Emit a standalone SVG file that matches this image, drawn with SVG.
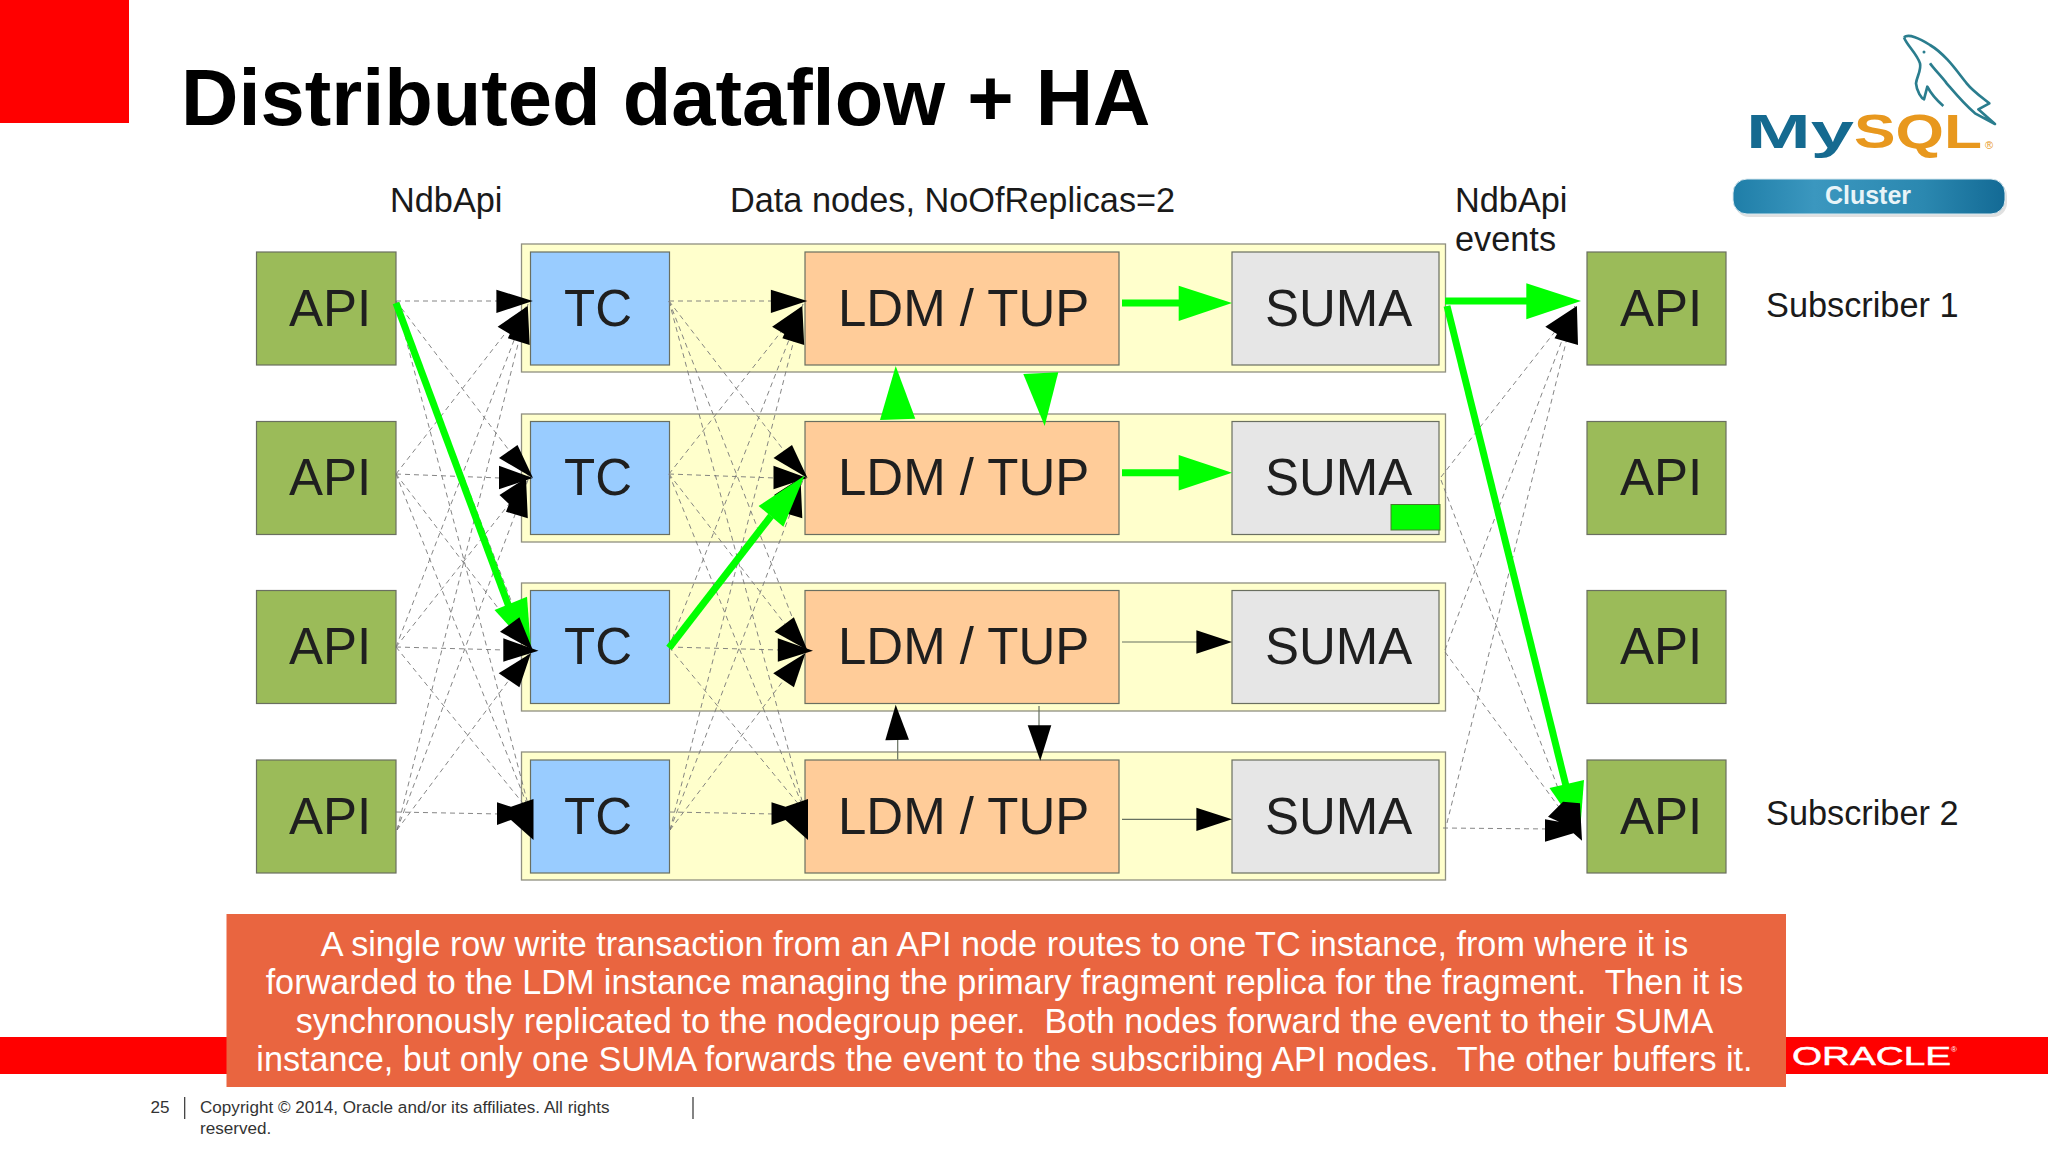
<svg xmlns="http://www.w3.org/2000/svg" width="2048" height="1152" viewBox="0 0 2048 1152">
<style>
text{font-family:"Liberation Sans",Arial,sans-serif;white-space:pre}
.band{fill:#ffffcc;stroke:#8f8f80;stroke-width:1.3}
.n{stroke:#6a6f60;stroke-width:1.2}
.api{fill:#9bbb59}.tc{fill:#99ccff}.ldm{fill:#ffcc99}.suma{fill:#e6e6e6}
.lbl{font-size:51px;fill:#1f1f1f}
.cap{font-size:34.3px;fill:#1a1a1a}
.desc{font-size:34.2px;fill:#fff;text-anchor:middle}
.foot{font-size:17.1px;fill:#333}
.d{stroke:#777;stroke-width:.9;stroke-dasharray:5 4;fill:none}
.s{stroke:#667060;stroke-width:1.2;fill:none}
.g{stroke:#00ff00;stroke-width:7;fill:none}
.gh{fill:#00ff00}.k{fill:#000}
</style>
<defs>
<linearGradient id="pill" x1="0" y1="0" x2="1" y2="0"><stop offset="0" stop-color="#1f7ea8"/><stop offset=".3" stop-color="#3b97bf"/><stop offset=".7" stop-color="#2b88b0"/><stop offset="1" stop-color="#136a95"/></linearGradient>
<g id="heads1"><polygon class="k" points="496.4,289.7 532.8,301 496.4,313"/><polygon class="k" points="497.6,326.7 527.8,306 529.7,345 507.9,338.3 509.8,334"/></g>
<g id="heads2"><polygon class="k" points="499,458 517.5,445 533,478"/><polygon class="k" points="499,465.7 532.8,478 499,489.3"/><polygon class="k" points="499.5,495 526,478 527.8,518.3 506,511.7 509,504"/></g>
<g id="heads3"><polygon class="k" points="500,631.7 519.4,617.3 532.8,650"/><polygon class="k" points="503.3,638.3 538.5,650.7 503.3,661.7"/><polygon class="k" points="498.7,673.3 530.9,653.3 519.4,687.3"/></g>
<g id="heads4"><polygon class="k" points="497,802.3 511,806.7 533.5,799 533.5,840 511,820 497,825"/></g>
</defs>

<rect width="2048" height="1152" fill="#fff"/>
<rect id="corner" width="129" height="123" fill="#ff0000"/>
<rect id="bar" y="1037" width="2048" height="37" fill="#ff0000"/>
<text x="181" y="125" font-size="79.500" font-weight="700" fill="#000">Distributed dataflow + HA</text>
<text class="cap" x="390" y="212">NdbApi</text>
<text class="cap" x="730" y="212">Data nodes, NoOfReplicas=2</text>
<text class="cap" x="1455" y="212">NdbApi</text>
<text class="cap" x="1455" y="251">events</text>
<text class="cap" x="1766" y="317">Subscriber 1</text>
<text class="cap" x="1766" y="825">Subscriber 2</text>

<g id="bands">
<rect class="band" x="521.5" y="244" width="924" height="128"/>
<rect class="band" x="521.5" y="414" width="924" height="128"/>
<rect class="band" x="521.5" y="583" width="924" height="128"/>
<rect class="band" x="521.5" y="752" width="924" height="128"/>
</g>

<g id="api-1"><rect class="n api" x="256.5" y="252" width="139.500" height="113"/><text class="lbl" x="289" y="326">API</text></g>
<g id="api-2"><rect class="n api" x="256.5" y="421.500" width="139.500" height="113"/><text class="lbl" x="289" y="495">API</text></g>
<g id="api-3"><rect class="n api" x="256.5" y="590.500" width="139.500" height="113"/><text class="lbl" x="289" y="664">API</text></g>
<g id="api-4"><rect class="n api" x="256.5" y="760" width="139.500" height="113"/><text class="lbl" x="289" y="834">API</text></g>
<g id="tc-1"><rect class="n tc" x="530.500" y="252" width="139" height="113"/><text class="lbl" x="564" y="326">TC</text></g>
<g id="tc-2"><rect class="n tc" x="530.500" y="421.500" width="139" height="113"/><text class="lbl" x="564" y="495">TC</text></g>
<g id="tc-3"><rect class="n tc" x="530.500" y="590.500" width="139" height="113"/><text class="lbl" x="564" y="664">TC</text></g>
<g id="tc-4"><rect class="n tc" x="530.500" y="760" width="139" height="113"/><text class="lbl" x="564" y="834">TC</text></g>
<g id="ldm-1"><rect class="n ldm" x="805" y="252" width="314" height="113"/><text class="lbl" x="838" y="326">LDM / TUP</text></g>
<g id="ldm-2"><rect class="n ldm" x="805" y="421.500" width="314" height="113"/><text class="lbl" x="838" y="495">LDM / TUP</text></g>
<g id="ldm-3"><rect class="n ldm" x="805" y="590.500" width="314" height="113"/><text class="lbl" x="838" y="664">LDM / TUP</text></g>
<g id="ldm-4"><rect class="n ldm" x="805" y="760" width="314" height="113"/><text class="lbl" x="838" y="834">LDM / TUP</text></g>
<g id="suma-1"><rect class="n suma" x="1232" y="252" width="207" height="113"/><text class="lbl" x="1265" y="326">SUMA</text></g>
<g id="suma-2"><rect class="n suma" x="1232" y="421.500" width="207" height="113"/><text class="lbl" x="1265" y="495">SUMA</text><rect x="1391" y="504.500" width="49" height="25.500" fill="#00ff00" stroke="#4a7a30" stroke-width="1"/></g>
<g id="suma-3"><rect class="n suma" x="1232" y="590.500" width="207" height="113"/><text class="lbl" x="1265" y="664">SUMA</text></g>
<g id="suma-4"><rect class="n suma" x="1232" y="760" width="207" height="113"/><text class="lbl" x="1265" y="834">SUMA</text></g>
<g id="api-r1"><rect class="n api" x="1587" y="252" width="139" height="113"/><text class="lbl" x="1620" y="326">API</text></g>
<g id="api-r2"><rect class="n api" x="1587" y="421.500" width="139" height="113"/><text class="lbl" x="1620" y="495">API</text></g>
<g id="api-r3"><rect class="n api" x="1587" y="590.500" width="139" height="113"/><text class="lbl" x="1620" y="664">API</text></g>
<g id="api-r4"><rect class="n api" x="1587" y="760" width="139" height="113"/><text class="lbl" x="1620" y="834">API</text></g>

<g id="connectors">
<g id="dashed-api-tc">
<path class="d" d="M396 301H500"/><path class="d" d="M396 301L530 478"/><path class="d" d="M396 301L530 650"/><path class="d" d="M396 301L530 812"/>
<path class="d" d="M396 474L528 304"/><path class="d" d="M396 474L500 478"/><path class="d" d="M396 474L530 650"/><path class="d" d="M396 474L530 812"/>
<path class="d" d="M396 647L528 304"/><path class="d" d="M396 647L528 480"/><path class="d" d="M396 647L505 650"/><path class="d" d="M396 647L530 812"/>
<path class="d" d="M397 830L528 304"/><path class="d" d="M397 830L528 480"/><path class="d" d="M397 830L530 652"/><path class="d" d="M396 812L500 814"/>
</g>
<g id="dashed-tc-ldm">
<path class="d" d="M669 301H775"/><path class="d" d="M669 301L805 478"/><path class="d" d="M669 301L805 650"/><path class="d" d="M669 301L805 812"/>
<path class="d" d="M669 474L803 304"/><path class="d" d="M669 474L775 478"/><path class="d" d="M669 474L805 650"/><path class="d" d="M669 474L805 812"/>
<path class="d" d="M669 647L803 304"/><path class="d" d="M669 647L803 480"/><path class="d" d="M669 647L780 650"/><path class="d" d="M669 647L805 812"/>
<path class="d" d="M670 830L803 304"/><path class="d" d="M670 830L803 480"/><path class="d" d="M670 830L805 652"/><path class="d" d="M669 812L775 814"/>
</g>
<g id="dashed-suma-api">
<path class="d" d="M1441 477L1575 306"/><path class="d" d="M1445 650L1575 306"/><path class="d" d="M1447 823L1575 306"/>
<path class="d" d="M1441 480L1572 825"/><path class="d" d="M1445 652L1572 825"/><path class="d" d="M1443 828L1550 829"/>
</g>
<g id="green">
<path class="g" d="M396 303L512 615"/><polygon class="gh" points="494.500,610 527,596.700 531,650"/>
<path class="g" d="M1122 303H1180"/><polygon class="gh" points="1178.700,285.700 1232,303 1178.700,321"/>
<path class="g" d="M1122 472.700H1180"/><polygon class="gh" points="1178.700,455 1232,472.700 1178.700,490.500"/>
<path class="g" d="M1445 301H1528"/><polygon class="gh" points="1526.300,283.300 1581,301 1526.300,319.300"/>
<path class="g" d="M1447 306L1567 790"/><polygon class="gh" points="1549.500,788 1584,780 1580,832"/>
<polygon class="gh" points="895.700,366 880,420 915.300,418.700"/>
<polygon class="gh" points="1023.300,374 1058.300,372.300 1044.700,426"/>
</g>
<g id="solid">
<path class="s" d="M1122 642H1198"/><polygon class="k" points="1196.400,630.300 1232,642 1196.400,653.700"/>
<path class="s" d="M1122 819.300H1198"/><polygon class="k" points="1196.400,807.700 1232,819.300 1196.400,831"/>
<path class="s" d="M897.700 759.500V738"/><polygon class="k" points="895.700,704.700 885.300,740.300 909,739.700"/>
<path class="s" d="M1039 706V727"/><polygon class="k" points="1027.700,725.300 1051.300,725.300 1040.300,760.700"/>
</g>
<g id="arrowheads">
<use href="#heads1"/><use href="#heads2"/><use href="#heads3"/><use href="#heads4"/>
<use href="#heads1" x="274.500"/><use href="#heads2" x="274.500"/><use href="#heads3" x="274.500"/><use href="#heads4" x="274.500"/>
<polygon class="k" points="1545.300,326.700 1576.900,306 1578,345 1554.500,338.300 1557,334"/>
<polygon class="k" points="1548,816.700 1563,801.700 1580,803.300 1582,840.700 1573.500,833.300 1545,841.700 1545,819.300 1559,821.700"/>
</g>
<g id="green-top">
<path class="g" d="M669 648L771 516"/><polygon class="gh" points="758.600,506 804.500,475.700 783.400,526.700"/>
</g>
</g>

<g id="desc">
<rect x="226.500" y="914" width="1559.500" height="173" fill="#e96540"/>
<text class="desc" x="1004.500" y="955.500">A single row write transaction from an API node routes to one TC instance, from where it is</text>
<text class="desc" x="1004.500" y="994">forwarded to the LDM instance managing the primary fragment replica for the fragment.  Then it is</text>
<text class="desc" x="1004.500" y="1032.500">synchronously replicated to the nodegroup peer.  Both nodes forward the event to their SUMA</text>
<text class="desc" x="1004.500" y="1070.500">instance, but only one SUMA forwards the event to the subscribing API nodes.  The other buffers it.</text>
</g>

<g id="footer">
<text class="foot" x="150.500" y="1112.500" fill="#222">25</text>
<path d="M184.700 1097V1119M693 1097V1119" stroke="#333" stroke-width="1.200"/>
<text class="foot" x="200" y="1112.500">Copyright © 2014, Oracle and/or its affiliates. All rights</text>
<text class="foot" x="200" y="1134">reserved.</text>
</g>

<g id="oracle-logo">
<text x="1792" y="1065" font-size="26.500" fill="#fff" stroke="#fff" stroke-width=".5" textLength="159" lengthAdjust="spacingAndGlyphs">ORACLE</text>
<text x="1951" y="1052" font-size="8" fill="#fff">®</text>
</g>

<g id="mysql-logo">
<g transform="translate(1700 20) scale(.33333)" fill="none" stroke="#2a7d8e" stroke-width="8" stroke-linejoin="round">
<path d="M612 52C625 40 660 55 690 75C740 105 775 160 800 190C820 215 850 235 868 250L835 268L885 312L825 280C790 250 770 225 740 190C725 170 700 145 690 130"/>
<path d="M612 52C620 75 650 100 660 130C665 150 650 170 648 190C650 215 665 235 672 238L682 200C695 225 715 245 730 258"/>
</g>
<circle cx="1924" cy="52" r="1.500" fill="#2a7d8e"/>
<text x="1746" y="148" font-size="48" font-weight="700" fill="#156a90" textLength="108" lengthAdjust="spacingAndGlyphs">My</text>
<text x="1854" y="148" font-size="48" font-weight="700" fill="#e8981e" textLength="128" lengthAdjust="spacingAndGlyphs">SQL</text>
<text x="1985" y="149" font-size="11" fill="#e8981e">®</text>
<rect x="1735" y="182" width="272" height="35" rx="14" fill="#000" opacity=".12"/>
<rect x="1733" y="179" width="272" height="35" rx="14" fill="url(#pill)" stroke="#d8e8ef" stroke-width="1"/>
<text x="1868" y="204" font-size="25" font-weight="700" fill="#e8f4f8" text-anchor="middle">Cluster</text>
</g>
</svg>
